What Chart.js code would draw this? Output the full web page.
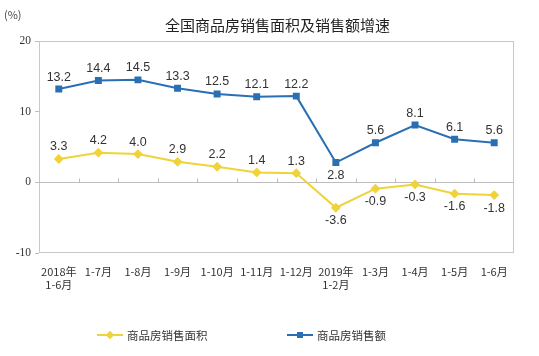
<!DOCTYPE html>
<html><head><meta charset="utf-8">
<script src="https://cdn.jsdelivr.net/npm/chart.js@4"></script>
<style>
html,body{margin:0;padding:0;background:#fff;}
#wrap{position:relative;width:539px;height:356px;}
canvas{position:absolute;left:0;top:0;}
.t{position:absolute;font-family:"Noto Sans CJK SC",sans-serif;color:#222;white-space:nowrap;}
</style></head><body>
<div id="wrap">
<canvas id="c" width="539" height="356"></canvas>
<div class="t" style="left:4px;top:6px;font-size:11px;color:#444;">(%)</div>
<div class="t" style="left:8px;width:539px;text-align:center;top:14px;font-size:15px;">全国商品房销售面积及销售额增速</div>
<div class="t" id="lg" style="left:0;top:327px;font-size:11.5px;color:#333;"></div>
</div>
<script>
const categories = [["2018年","1-6月"],"1-7月","1-8月","1-9月","1-10月","1-11月","1-12月",["2019年","1-2月"],"1-3月","1-4月","1-5月","1-6月"];
const areaGrowth = [3.3,4.2,4.0,2.9,2.2,1.4,1.3,-3.6,-0.9,-0.3,-1.6,-1.8];
const salesGrowth = [13.2,14.4,14.5,13.3,12.5,12.1,12.2,2.8,5.6,8.1,6.1,5.6];
const yTicks = [20,10,0,-10];
const seriesNames = ["商品房销售面积","商品房销售额"];
const areaBelow = [false,false,false,false,false,false,false,true,true,true,true,true];
const salesBelow = [false,false,false,false,false,false,false,true,false,false,false,false];
const YELLOW = "#EFD338", BLUE = "#2A6FB3";

const decor = {
  id:'decor',
  beforeDatasetsDraw(chart){
    const {ctx, chartArea:a, scales:{x,y}} = chart;
    ctx.save();
    ctx.strokeStyle = "#c8c8c8"; ctx.lineWidth = 1;
    ctx.strokeRect(a.left+0.5, a.top+0.5, a.right-a.left-1, a.bottom-a.top-1);
    const y0 = Math.round(y.getPixelForValue(0))+0.5;
    ctx.strokeStyle = "#bdbdbd";
    ctx.beginPath(); ctx.moveTo(a.left, y0); ctx.lineTo(a.right, y0);
    const step = (a.right-a.left)/categories.length;
    for(let i=1;i<categories.length;i++){
      const xp = Math.round(a.left+i*step)+0.5;
      ctx.moveTo(xp,y0); ctx.lineTo(xp,y0-4);
    }
    ctx.stroke();
    ctx.restore();
  },
  afterDatasetsDraw(chart){
    const {ctx} = chart;
    ctx.save();
    ctx.font = "12.5px 'Liberation Sans', Arial, sans-serif";
    ctx.fillStyle = "#333"; ctx.textAlign = "center"; ctx.textBaseline = "middle";
    const below = [areaBelow, salesBelow];
    chart.data.datasets.forEach((ds, di)=>{
      chart.getDatasetMeta(di).data.forEach((pt,i)=>{
        const v = ds.data[i];
        const off = below[di][i] ? 13 : -12;
        ctx.fillText(v.toFixed(1), pt.x, pt.y+off);
      });
    });
    ctx.restore();
  }
};

new Chart(document.getElementById('c'), {
  type:'line',
  data:{
    labels: categories,
    datasets:[
      {label:seriesNames[0], data:areaGrowth, borderColor:YELLOW, backgroundColor:YELLOW, borderWidth:2, pointStyle:'rectRot', pointRadius:3.5, pointHoverRadius:3.5, tension:0},
      {label:seriesNames[1], data:salesGrowth, borderColor:BLUE, backgroundColor:BLUE, borderWidth:2, pointStyle:'rect', pointRadius:3.5, pointHoverRadius:3.5, tension:0}
    ]
  },
  options:{
    responsive:false, animation:false, events:[],
    layout:{padding:{top:41,right:25,left:0,bottom:0}},
    plugins:{legend:{display:false}, tooltip:{enabled:false}, title:{display:false}},
    scales:{
      x:{
        offset:true,
        grid:{display:false, drawTicks:false},
        border:{display:false},
        ticks:{color:"#333", font:{family:"'Noto Sans CJK SC', sans-serif", size:11}, maxRotation:0, autoSkip:false, padding:12, lineHeight:1.3},
        afterFit(s){ s.height = 103; }
      },
      y:{
        min:-10, max:20,
        afterBuildTicks(s){ s.ticks = yTicks.map(v=>({value:v})); },
        grid:{drawOnChartArea:false, drawTicks:true, tickLength:4, color:"#bdbdbd"},
        border:{display:false},
        ticks:{color:"#333", font:{family:"'Liberation Serif', serif", size:11.5}, padding:4},
        afterFit(s){ s.width = 39; }
      }
    }
  },
  plugins:[decor]
});

// legend
const lg = document.getElementById('lg');
const items = [{c:YELLOW, shape:'d', x:97}, {c:BLUE, shape:'s', x:287}];
items.forEach((it,i)=>{
  const sp = document.createElement('span');
  sp.style.cssText = "position:absolute;top:0;left:"+it.x+"px;display:flex;align-items:center;";
  const cv = document.createElement('canvas'); cv.width=26; cv.height=14;
  cv.style.position='static';
  const g = cv.getContext('2d');
  g.strokeStyle = it.c; g.fillStyle = it.c; g.lineWidth = 2;
  g.beginPath(); g.moveTo(0,7); g.lineTo(26,7); g.stroke();
  g.save(); g.translate(13,7); if(it.shape==='d') g.rotate(Math.PI/4); g.fillRect(-3,-3,6,6); g.restore();
  sp.appendChild(cv);
  const tx = document.createElement('span'); tx.textContent = seriesNames[i]; tx.style.marginLeft='4px';
  sp.appendChild(tx);
  lg.appendChild(sp);
});
</script>
</body></html>
